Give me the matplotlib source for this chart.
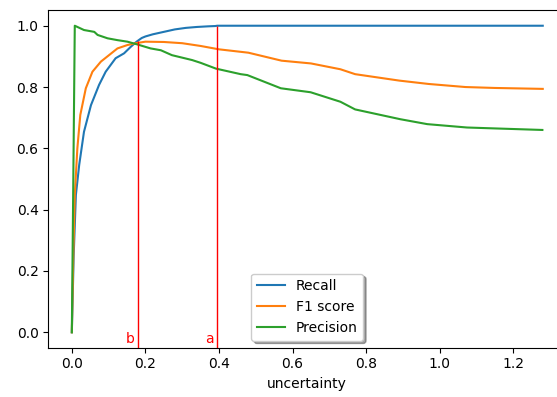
import matplotlib
matplotlib.use("Agg")
import matplotlib.pyplot as plt

# recall curve
recall_x = [0, 0.005, 0.011, 0.020, 0.033, 0.052, 0.074, 0.092, 0.119, 0.142, 0.16,
            0.176, 0.19, 0.20, 0.22, 0.25, 0.28, 0.31, 0.34, 0.37, 0.39, 0.395, 1.28]
recall_y = [0, 0.25, 0.448, 0.546, 0.654, 0.741, 0.807, 0.85, 0.894, 0.91, 0.931,
            0.948, 0.96, 0.965, 0.972, 0.98, 0.988, 0.993, 0.996, 0.998, 0.999, 1.0, 1.0]

# F1 score curve
f1_x = [0, 0.004, 0.008, 0.015, 0.023, 0.038, 0.056, 0.079, 0.101, 0.124, 0.151, 0.174,
        0.20, 0.25, 0.30, 0.35, 0.40, 0.48, 0.57, 0.65, 0.73, 0.77, 0.89, 0.97, 1.07,
        1.15, 1.28]
f1_y = [0, 0.25, 0.448, 0.60, 0.709, 0.796, 0.85, 0.883, 0.904, 0.926, 0.937, 0.943,
        0.948, 0.947, 0.943, 0.934, 0.923, 0.912, 0.886, 0.877, 0.858, 0.842, 0.821, 0.81,
        0.80, 0.797, 0.794]

# precision curve
prec_x = [0, 0.008, 0.033, 0.061, 0.07, 0.097, 0.124, 0.151, 0.178, 0.214, 0.242, 0.272,
          0.327, 0.35, 0.392, 0.459, 0.477, 0.568, 0.649, 0.73, 0.77, 0.893, 0.966, 1.074,
          1.15, 1.279]
prec_y = [0, 1.0, 0.986, 0.98, 0.97, 0.959, 0.953, 0.948, 0.939, 0.926, 0.92, 0.904,
          0.888, 0.879, 0.86, 0.842, 0.839, 0.796, 0.783, 0.752, 0.727, 0.695, 0.679, 0.668,
          0.665, 0.66]

# marked thresholds
mark_names = ["b", "a"]
mark_x = [0.181, 0.395]
mark_top = [0.95, 1.0]

fig = plt.figure(figsize=(5.57, 3.97), dpi=100)
ax = fig.add_axes([0.0867, 0.1244, 0.930, 0.8494])

ax.plot(recall_x, recall_y, label="Recall")
ax.plot(f1_x, f1_y, label="F1 score")
ax.plot(prec_x, prec_y, label="Precision")

ax.set_xlim(-0.064, 1.344)
ax.set_ylim(-0.05, 1.05)

ax.vlines(mark_x, -0.05, mark_top, colors="red", linewidth=1)
for name, x in zip(mark_names, mark_x):
    ax.text(x - 0.01, -0.035, name, color="red", ha="right", va="baseline")

ax.set_xlabel("uncertainty")
ax.legend(loc="lower center", shadow=True)

fig.savefig("out.png", dpi=100)
